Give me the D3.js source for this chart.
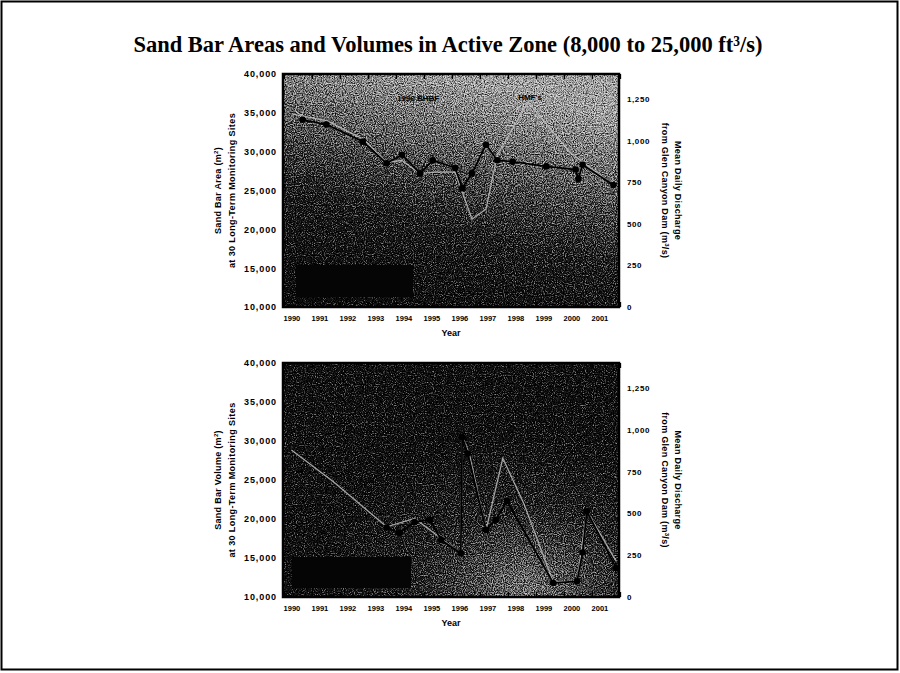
<!DOCTYPE html>
<html>
<head>
<meta charset="utf-8">
<script src="https://cdn.jsdelivr.net/npm/d3@7/dist/d3.min.js"></script>
<style>
  body { margin: 0; background: #fff; }
  svg { display: block; }
</style>
</head>
<body>
<svg width="900" height="673"></svg>
<script>
// ---- data ----
var years = d3.range(1990, 2002);
var areaTicks = d3.range(10000, 40001, 5000);
var flowTicks = [0, 250, 500, 750, 1000, 1250];

// top panel: sand bar area (m2) and mean daily discharge (m3/s)
var areaDates  = [1990.4, 1991.25, 1992.55, 1993.4, 1993.95, 1994.6, 1995.05, 1995.85, 1996.1, 1996.45, 1996.95, 1997.35, 1997.9, 1999.1, 2000.15, 2000.25, 2000.4, 2001.5];
var areaValues = [34100, 33500, 31300, 28500, 29600, 27200, 28900, 27900, 25300, 27200, 30900, 28900, 28700, 28100, 27700, 26500, 28300, 25700];
var areaFlowDates  = [1990.0, 1991.25, 1992.55, 1993.4, 1993.95, 1994.6, 1995.05, 1995.85, 1996.45, 1996.95, 1997.35, 1998.45, 1999.95, 2001.5];
var areaFlowValues = [1160, 1120, 1010, 870, 880, 800, 810, 810, 527, 588, 912, 1232, 930, 731];

// bottom panel: sand bar volume (m3) and mean daily discharge (m3/s)
var volDates  = [1993.4, 1993.85, 1994.4, 1994.95, 1995.35, 1996.05, 1996.1, 1996.3, 1996.95, 1997.3, 1997.7, 1999.35, 2000.2, 2000.4, 2000.55, 2001.6];
var volValues = [18900, 18200, 19600, 19900, 17300, 15600, 30500, 28400, 18600, 19900, 22300, 11800, 12000, 15700, 21000, 13700];
var volFlowDates  = [1990.0, 1991.5, 1993.4, 1994.4, 1995.35, 1996.05, 1996.1, 1996.35, 1996.95, 1997.55, 1998.3, 1999.35, 2000.2, 2000.55, 2001.6];
var volFlowValues = [880, 690, 420, 470, 350, 260, 960, 860, 400, 830, 560, 90, 95, 515, 215];

var svg = d3.select("svg");

// page frame
svg.append("rect").attr("x", 1.5).attr("y", 1.5).attr("width", 896).attr("height", 668)
    .attr("fill", "none").attr("stroke", "#000").attr("stroke-width", 2);

svg.append("text")
    .attr("x", 448).attr("y", 52)
    .attr("text-anchor", "middle")
    .style("font-family", "'Liberation Serif', 'Times New Roman', serif")
    .style("font-weight", "bold")
    .style("font-size", "22.5px")
    .text("Sand Bar Areas and Volumes in Active Zone (8,000 to 25,000 ft\u00b3/s)");

var defs = svg.append("defs");

var g1 = defs.append("linearGradient").attr("id", "bgTop")
    .attr("x1", 0.15).attr("y1", 1).attr("x2", 0.5).attr("y2", 0);
g1.append("stop").attr("offset", 0).attr("stop-color", "#1c1c1c");
g1.append("stop").attr("offset", 0.4).attr("stop-color", "#383838");
g1.append("stop").attr("offset", 0.72).attr("stop-color", "#727272");
g1.append("stop").attr("offset", 1).attr("stop-color", "#a4a4a4");

var g2 = defs.append("radialGradient").attr("id", "bgBot")
    .attr("cx", 0.72).attr("cy", 0.95).attr("r", 0.65);
g2.append("stop").attr("offset", 0).attr("stop-color", "#7c7c7c");
g2.append("stop").attr("offset", 0.5).attr("stop-color", "#3e3e3e");
g2.append("stop").attr("offset", 1).attr("stop-color", "#262626");

// scan-like dithering of the plot backgrounds
var dither = defs.append("filter").attr("id", "dither")
    .attr("x", 0).attr("y", 0).attr("width", 1).attr("height", 1)
    .attr("color-interpolation-filters", "sRGB");
dither.append("feTurbulence").attr("type", "fractalNoise")
    .attr("baseFrequency", 0.9).attr("numOctaves", 2).attr("seed", 5).attr("result", "n");
dither.append("feColorMatrix").attr("in", "n").attr("type", "matrix")
    .attr("values", "1 0 0 0 0  1 0 0 0 0  1 0 0 0 0  0 0 0 0 1").attr("result", "ng");
dither.append("feComposite").attr("in", "SourceGraphic").attr("in2", "ng")
    .attr("operator", "arithmetic").attr("k1", 0).attr("k2", 1).attr("k3", 1.3).attr("k4", -0.65)
    .attr("result", "sum");
var ct = dither.append("feComponentTransfer").attr("in", "sum");
["feFuncR", "feFuncG", "feFuncB"].forEach(function (f) {
    ct.append(f).attr("type", "table").attr("tableValues", "0 0.1 0.45 0.75 0.9");
});

var x = d3.scaleLinear().domain([1989.7, 2001.7]).range([283, 619]);

function panel(top, bottom, bgId, leftTitle, dates, values, flowDates, flowValues, legendBox) {
    var yL = d3.scaleLinear().domain([10000, 40000]).range([bottom, top]);
    var yR = d3.scaleLinear().domain([0, 1400]).range([bottom, top]);
    var g = svg.append("g");

    g.append("rect").attr("x", x.range()[0]).attr("y", top)
        .attr("width", x.range()[1] - x.range()[0]).attr("height", bottom - top)
        .attr("fill", "url(#" + bgId + ")").attr("filter", "url(#dither)");

    // blacked-out legend box
    g.append("rect").attr("x", legendBox[0]).attr("y", legendBox[1])
        .attr("width", legendBox[2]).attr("height", legendBox[3]).attr("fill", "#050505");

    // discharge line
    var flowPts = d3.zip(flowDates, flowValues);
    g.append("path").datum(flowPts)
        .attr("fill", "none").attr("stroke", "#bdbdbd").attr("stroke-width", 1.3)
        .attr("stroke-opacity", 0.85)
        .attr("d", d3.line().x(function (d) { return x(d[0]); }).y(function (d) { return yR(d[1]); }));

    // sand bar line + markers
    var pts = d3.zip(dates, values);
    g.append("path").datum(pts)
        .attr("fill", "none").attr("stroke", "#000").attr("stroke-width", 1.7)
        .attr("d", d3.line().x(function (d) { return x(d[0]); }).y(function (d) { return yL(d[1]); }));
    g.selectAll("circle.pt").data(pts).enter().append("circle")
        .attr("class", "pt")
        .attr("cx", function (d) { return x(d[0]); })
        .attr("cy", function (d) { return yL(d[1]); })
        .attr("r", 3.3).attr("fill", "#000");

    // frame
    g.append("rect").attr("x", x.range()[0]).attr("y", top)
        .attr("width", x.range()[1] - x.range()[0]).attr("height", bottom - top)
        .attr("fill", "none").attr("stroke", "#000").attr("stroke-width", 2.5);

    // year boundary ticks on top and bottom edges
    var bounds = years.map(function (y) { return y - 0.25; }).concat([2001.75]);
    g.selectAll("line.tt").data(bounds).enter().append("line")
        .attr("x1", function (d) { return x(d); }).attr("x2", function (d) { return x(d); })
        .attr("y1", top).attr("y2", top + 5).attr("stroke", "#000").attr("stroke-width", 1.5);
    g.selectAll("line.bt").data(bounds).enter().append("line")
        .attr("x1", function (d) { return x(d); }).attr("x2", function (d) { return x(d); })
        .attr("y1", bottom - 5).attr("y2", bottom).attr("stroke", "#000").attr("stroke-width", 1.5);

    var left = g.append("g").attr("transform", "translate(" + (x.range()[0] - 3) + ",0)")
        .call(d3.axisLeft(yL).tickValues(areaTicks).tickFormat(d3.format(",")).tickSize(0).tickPadding(3));
    var right = g.append("g").attr("transform", "translate(" + (x.range()[1] + 5) + ",0)")
        .call(d3.axisRight(yR).tickValues(flowTicks).tickFormat(d3.format(",")).tickSize(0).tickPadding(3));
    [left, right].forEach(function (a) {
        a.select(".domain").remove();
        a.selectAll("text").attr("fill", "#000")
            .style("font-family", "'Liberation Sans', Arial, sans-serif")
            .style("font-weight", "bold");
    });
    left.selectAll("text").style("font-size", "9px").style("letter-spacing", "0.9px");
    right.selectAll("text").style("font-size", "8px").style("letter-spacing", "0.6px");

    var bottomAx = g.append("g").attr("transform", "translate(0," + (bottom + 3) + ")")
        .call(d3.axisBottom(x).tickValues(years).tickFormat(d3.format("d")).tickSize(0).tickPadding(6));
    bottomAx.select(".domain").remove();
    bottomAx.selectAll("text").attr("fill", "#000")
        .style("font-family", "'Liberation Sans', Arial, sans-serif")
        .style("font-weight", "bold").style("font-size", "7.5px");

    var lab = { "font-family": "'Liberation Sans', Arial, sans-serif", "font-weight": "bold", "font-size": "9px" };
    function styled(t) { for (var k in lab) t.style(k, lab[k]); return t; }

    styled(g.append("text").attr("x", 451).attr("y", bottom + 29).attr("text-anchor", "middle")).text("Year");

    var mid = (top + bottom) / 2;
    var lt = styled(g.append("text").attr("transform", "translate(221," + mid + ") rotate(-90)")
        .attr("text-anchor", "middle").style("letter-spacing", "0.3px"));
    lt.append("tspan").text(leftTitle);
    lt.append("tspan").attr("dy", -3).style("font-size", "6px").text("2");
    lt.append("tspan").attr("dy", 3).text(")");
    styled(g.append("text").attr("transform", "translate(235," + mid + ") rotate(-90)")
        .attr("text-anchor", "middle").style("letter-spacing", "0.4px"))
        .text("at 30 Long-Term Monitoring Sites");

    styled(g.append("text").attr("transform", "translate(675," + mid + ") rotate(90)")
        .attr("text-anchor", "middle").style("letter-spacing", "0.3px"))
        .text("Mean Daily Discharge");
    var rt = styled(g.append("text").attr("transform", "translate(662," + mid + ") rotate(90)")
        .attr("text-anchor", "middle").style("letter-spacing", "0.3px"));
    rt.append("tspan").text("from Glen Canyon Dam (m");
    rt.append("tspan").attr("dy", -3).style("font-size", "6px").text("3");
    rt.append("tspan").attr("dy", 3).text("/s)");

    return g;
}

var topPanel = panel(74, 307, "bgTop", "Sand Bar Area (m",
    areaDates, areaValues, areaFlowDates, areaFlowValues, [296, 265, 117, 32]);
var botPanel = panel(363, 597, "bgBot", "Sand Bar Volume (m",
    volDates, volValues, volFlowDates, volFlowValues, [292, 557, 119, 31]);

// annotations in the top panel
var note = { "font-family": "'Liberation Sans', Arial, sans-serif", "font-weight": "bold", "font-size": "8px" };
[[418, 101, "1996 BHBF"], [530, 100, "HMF's"]].forEach(function (a) {
    var t = topPanel.append("text").attr("x", a[0]).attr("y", a[1]).attr("text-anchor", "middle")
        .attr("fill", "#000").text(a[2]);
    for (var k in note) t.style(k, note[k]);
});
</script>
</body>
</html>
